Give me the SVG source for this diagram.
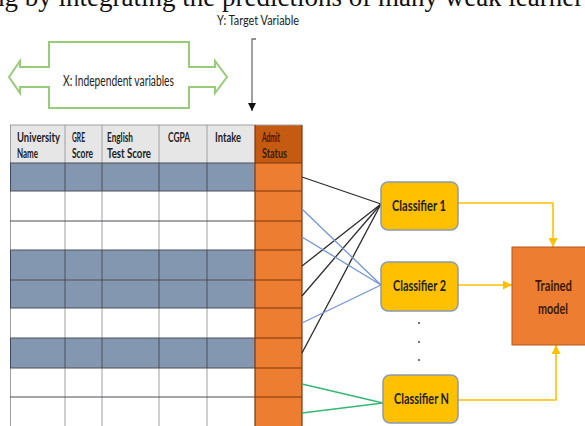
<svg xmlns="http://www.w3.org/2000/svg" width="585" height="426" viewBox="0 0 585 426">
<defs>
<style>
.lbl{font-family:Lato,"Liberation Sans","DejaVu Sans",sans-serif;fill:#222222}
.hdr{font-size:12.5px;font-weight:bold}
.cls{font-size:14.5px;font-weight:bold}
.blue{fill:#8497b0}
.wht{fill:#ffffff}
.box{fill:#ffc000;stroke:#8a9bb2;stroke-width:1.5}
.yl{fill:none;stroke:#ffc000;stroke-width:1.6}
.bk{stroke:#2b2b2b;stroke-width:1.3;fill:none}
.bl{stroke:#7395d6;stroke-width:1.3;fill:none}
.gr{stroke:#35b874;stroke-width:1.6;fill:none}
</style>
<marker id="ya" viewBox="0 0 10 10" refX="10" refY="5" markerWidth="9" markerHeight="9" markerUnits="userSpaceOnUse" orient="auto">
<path d="M0,0 L10,5 L0,10 Z" fill="#ffc000"/>
</marker>
<marker id="ba" viewBox="0 0 10 10" refX="10" refY="5" markerWidth="8" markerHeight="8" markerUnits="userSpaceOnUse" orient="auto">
<path d="M0,0 L10,5 L0,10 Z" fill="#111"/>
</marker>
</defs>
<rect width="585" height="426" fill="#ffffff"/>

<text x="-9" y="6" font-family="'Liberation Serif','Times New Roman',serif" font-size="27" fill="#111">ng by integrating the predictions of many weak learner</text>

<g id="y-label">
<text class="lbl" x="217" y="25" font-size="13" textLength="82" lengthAdjust="spacingAndGlyphs" fill="#3a3a3a">Y: Target Variable</text>
<path d="M256,39 L252,39 L252,111" fill="none" stroke="#6e6e6e" stroke-width="1.3" marker-end="url(#ba)"/>
</g>

<g id="x-arrow">
<path d="M9,77 L20,61 L20,67 L49,67 L49,42 L189,42 L189,67 L215,67 L215,61 L227,77 L215,93 L215,87 L189,87 L189,108 L49,108 L49,87 L20,87 L20,93 Z" fill="#ffffff" stroke="#98cc78" stroke-width="2" stroke-linejoin="miter"/>
<text class="lbl" x="63" y="86" font-size="14.5" textLength="111" lengthAdjust="spacingAndGlyphs">X: Independent variables</text>
</g>

<g id="table">
<rect x="10" y="125" width="245" height="38" fill="#e7e6e6"/>
<rect x="255" y="125" width="47" height="38" fill="#c55a11"/>
<rect x="10" y="163" width="245" height="28" class="blue"/>
<rect x="10" y="191" width="245" height="59" class="wht"/>
<rect x="10" y="250" width="245" height="58" class="blue"/>
<rect x="10" y="308" width="245" height="30" class="wht"/>
<rect x="10" y="338" width="245" height="30" class="blue"/>
<rect x="10" y="368" width="245" height="58" class="wht"/>
<rect x="255" y="163" width="47" height="263" fill="#ed7d31"/>
<g stroke="#a0a0a0" stroke-width="1">
<line x1="10" y1="125" x2="302" y2="125"/>
<line x1="10.5" y1="125" x2="10.5" y2="426"/>
<line x1="65" y1="125" x2="65" y2="426"/>
<line x1="102" y1="125" x2="102" y2="426"/>
<line x1="159" y1="125" x2="159" y2="426"/>
<line x1="207" y1="125" x2="207" y2="426"/>
</g>
<g stroke="#3e4a5c" stroke-width="1">
<line x1="10.5" y1="163" x2="10.5" y2="191"/><line x1="65" y1="163" x2="65" y2="191"/><line x1="102" y1="163" x2="102" y2="191"/><line x1="159" y1="163" x2="159" y2="191"/><line x1="207" y1="163" x2="207" y2="191"/>
<line x1="10.5" y1="250" x2="10.5" y2="308"/><line x1="65" y1="250" x2="65" y2="308"/><line x1="102" y1="250" x2="102" y2="308"/><line x1="159" y1="250" x2="159" y2="308"/><line x1="207" y1="250" x2="207" y2="308"/>
<line x1="10.5" y1="338" x2="10.5" y2="368"/><line x1="65" y1="338" x2="65" y2="368"/><line x1="102" y1="338" x2="102" y2="368"/><line x1="159" y1="338" x2="159" y2="368"/><line x1="207" y1="338" x2="207" y2="368"/>
</g>
<g stroke="#4a4f58" stroke-width="1.2">
<line x1="10" y1="163" x2="255" y2="163"/>
<line x1="10" y1="191" x2="255" y2="191"/>
<line x1="10" y1="221" x2="255" y2="221"/>
<line x1="10" y1="250" x2="255" y2="250"/>
<line x1="10" y1="280" x2="255" y2="280"/>
<line x1="10" y1="308" x2="255" y2="308"/>
<line x1="10" y1="338" x2="255" y2="338"/>
<line x1="10" y1="368" x2="255" y2="368"/>
<line x1="10" y1="397" x2="255" y2="397"/>
</g>
<g stroke="#7a3610" stroke-width="1.2">
<line x1="255" y1="163" x2="302" y2="163"/>
<line x1="255" y1="191" x2="302" y2="191"/>
<line x1="255" y1="221" x2="302" y2="221"/>
<line x1="255" y1="250" x2="302" y2="250"/>
<line x1="255" y1="280" x2="302" y2="280"/>
<line x1="255" y1="308" x2="302" y2="308"/>
<line x1="255" y1="338" x2="302" y2="338"/>
<line x1="255" y1="368" x2="302" y2="368"/>
<line x1="255" y1="397" x2="302" y2="397"/>
<line x1="255" y1="125" x2="255" y2="426"/>
<line x1="302" y1="125" x2="302" y2="426"/>
</g>
<g class="lbl hdr">
<text x="17" y="142" textLength="43" lengthAdjust="spacingAndGlyphs">University</text>
<text x="17" y="158" textLength="21" lengthAdjust="spacingAndGlyphs">Name</text>
<text x="72" y="142" textLength="13" lengthAdjust="spacingAndGlyphs">GRE</text>
<text x="72" y="158" textLength="21" lengthAdjust="spacingAndGlyphs">Score</text>
<text x="107" y="142" textLength="26" lengthAdjust="spacingAndGlyphs">English</text>
<text x="107" y="158" textLength="44" lengthAdjust="spacingAndGlyphs">Test Score</text>
<text x="168" y="142" textLength="22" lengthAdjust="spacingAndGlyphs">CGPA</text>
<text x="215" y="142" textLength="26" lengthAdjust="spacingAndGlyphs">Intake</text>
<text x="262" y="142" textLength="18" lengthAdjust="spacingAndGlyphs" style="fill:#3b1a04">Admit</text>
<text x="262" y="158" textLength="25" lengthAdjust="spacingAndGlyphs" style="fill:#3b1a04">Status</text>
</g>
</g>

<g id="connectors">
<line class="bk" x1="302" y1="177" x2="381" y2="204"/>
<line class="bk" x1="302" y1="266" x2="381" y2="204"/>
<line class="bk" x1="302" y1="296" x2="381" y2="204"/>
<line class="bk" x1="302" y1="353" x2="381" y2="204"/>
<line class="bl" x1="302" y1="209" x2="381" y2="285"/>
<line class="bl" x1="302" y1="237" x2="381" y2="285"/>
<line class="bl" x1="302" y1="323" x2="381" y2="285"/>
<line class="gr" x1="302" y1="384" x2="383" y2="403"/>
<line class="gr" x1="302" y1="413" x2="383" y2="403"/>
<path class="yl" d="M458,203 L553,203 L553,247" marker-end="url(#ya)"/>
<path class="yl" d="M458,285 L512,285" marker-end="url(#ya)"/>
<path class="yl" d="M458,400 L556,400 L556,345" marker-end="url(#ya)"/>
</g>

<g id="classifier-1">
<rect class="box" x="381" y="182" width="77" height="48" rx="7"/>
<text class="lbl cls" x="392" y="211" textLength="54" lengthAdjust="spacingAndGlyphs">Classifier 1</text>
</g>
<g id="classifier-2">
<rect class="box" x="381" y="262" width="77" height="49" rx="7"/>
<text class="lbl cls" x="393" y="291" textLength="53" lengthAdjust="spacingAndGlyphs">Classifier 2</text>
</g>
<g id="dots" fill="#333">
<circle cx="419" cy="323" r="0.9"/>
<circle cx="419" cy="342" r="0.9"/>
<circle cx="419" cy="360" r="0.9"/>
</g>
<g id="classifier-n">
<rect class="box" x="383" y="375" width="75" height="48" rx="7"/>
<text class="lbl cls" x="394" y="404" textLength="55" lengthAdjust="spacingAndGlyphs">Classifier N</text>
</g>
<g id="trained-model">
<rect x="512" y="247" width="76" height="98" fill="#ed7d31" stroke="#b8561c" stroke-width="1"/>
<text class="lbl" x="535" y="291" font-size="15" font-weight="bold" textLength="37" lengthAdjust="spacingAndGlyphs" style="fill:#3b1a04">Trained</text>
<text class="lbl" x="538" y="314" font-size="15" font-weight="bold" textLength="30" lengthAdjust="spacingAndGlyphs" style="fill:#3b1a04">model</text>
</g>
</svg>
